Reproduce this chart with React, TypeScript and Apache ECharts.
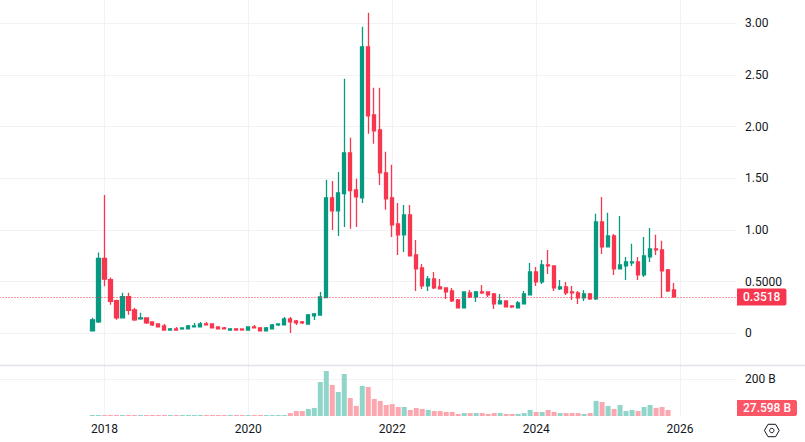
import React, { useEffect, useRef } from "react";
import * as echarts from "echarts";

const FONT = "Roboto";
const UP = "#089981";
const DOWN = "#f7374f";
const UP_SOFT = "#90d5c9";
const DOWN_SOFT = "#fca7af";
const GRID = "#f2f2f4";
const TEXT = "#131722";

const LEAD_MONTHS = 15;
const TOTAL_MONTHS = 123;
const CURRENT_PRICE = 0.3518;
const CURRENT_VOLUME = 27.598;

const opens = [
  0.023, 0.11, 0.724, 0.52, 0.315, 0.149, 0.354, 0.227, 0.14, 0.149, 0.11, 0.09, 0.071, 0.032, 0.042, 0.042, 0.042, 0.062, 0.062, 0.09,
  0.09, 0.061, 0.052, 0.032, 0.042, 0.042, 0.032, 0.061, 0.052, 0.023, 0.042, 0.081, 0.081, 0.139, 0.119, 0.11, 0.09, 0.168, 0.177, 0.345,
  1.31, 1.184, 1.352, 1.745, 1.387, 1.31, 2.771, 2.113, 1.968, 1.552, 1.31, 1.058, 0.952, 1.145, 0.758, 0.632, 0.458, 0.526, 0.448, 0.439,
  0.41, 0.323, 0.245, 0.39, 0.352, 0.4, 0.4, 0.381, 0.284, 0.313, 0.265, 0.245, 0.284, 0.371, 0.594, 0.497, 0.661, 0.652, 0.429, 0.448,
  0.4, 0.39, 0.342, 0.381, 0.332, 1.077, 0.835, 0.942, 0.623, 0.652, 0.681, 0.69, 0.565, 0.739, 0.816, 0.806, 0.613, 0.419,
];
const closes = [
  0.13, 0.724, 0.523, 0.308, 0.149, 0.354, 0.221, 0.13, 0.149, 0.1, 0.081, 0.062, 0.032, 0.042, 0.032, 0.052, 0.071, 0.071, 0.09, 0.081,
  0.052, 0.042, 0.042, 0.042, 0.032, 0.032, 0.061, 0.052, 0.023, 0.052, 0.081, 0.09, 0.139, 0.11, 0.1, 0.1, 0.177, 0.187, 0.352, 1.31,
  1.184, 1.358, 1.745, 1.381, 1.319, 2.771, 2.103, 1.958, 1.552, 1.3, 1.048, 0.952, 1.145, 0.748, 0.623, 0.458, 0.526, 0.439, 0.429, 0.4,
  0.313, 0.245, 0.4, 0.352, 0.4, 0.39, 0.371, 0.284, 0.313, 0.255, 0.255, 0.294, 0.381, 0.594, 0.497, 0.661, 0.652, 0.439, 0.448, 0.39,
  0.39, 0.342, 0.381, 0.332, 1.077, 0.835, 0.942, 0.623, 0.661, 0.69, 0.69, 0.565, 0.748, 0.816, 0.806, 0.603, 0.41, 0.3518,
];
const lows = [
  0.023, 0.1, 0.455, 0.276, 0.13, 0.149, 0.179, 0.12, 0.13, 0.09, 0.071, 0.06, 0.03, 0.03, 0.03, 0.042, 0.042, 0.062, 0.062, 0.081,
  0.05, 0.042, 0.04, 0.032, 0.032, 0.032, 0.032, 0.052, 0.023, 0.023, 0.042, 0.071, 0.081, 0.003, 0.081, 0.09, 0.09, 0.129, 0.177, 0.345,
  1.0, 0.942, 1.029, 1.01, 1.029, 1.261, 1.929, 1.832, 1.435, 1.194, 0.932, 0.758, 0.787, 0.748, 0.41, 0.429, 0.41, 0.429, 0.429, 0.332,
  0.303, 0.245, 0.245, 0.342, 0.303, 0.381, 0.352, 0.235, 0.284, 0.255, 0.245, 0.245, 0.284, 0.371, 0.458, 0.477, 0.574, 0.41, 0.419, 0.371,
  0.323, 0.284, 0.313, 0.323, 0.323, 0.768, 0.835, 0.565, 0.623, 0.516, 0.652, 0.516, 0.545, 0.69, 0.758, 0.342, 0.4, 0.345,
];
const highs = [
  0.15, 0.782, 1.338, 0.54, 0.325, 0.393, 0.393, 0.247, 0.198, 0.149, 0.11, 0.09, 0.09, 0.052, 0.062, 0.052, 0.081, 0.1, 0.11, 0.11,
  0.09, 0.061, 0.061, 0.052, 0.052, 0.042, 0.061, 0.081, 0.061, 0.061, 0.09, 0.09, 0.158, 0.158, 0.129, 0.119, 0.187, 0.197, 0.4, 1.484,
  1.474, 1.561, 2.461, 1.89, 1.494, 2.965, 3.1, 2.374, 2.374, 1.755, 1.629, 1.261, 1.242, 1.242, 0.903, 0.671, 0.555, 0.594, 0.526, 0.439,
  0.439, 0.332, 0.4, 0.419, 0.41, 0.468, 0.4, 0.39, 0.381, 0.313, 0.265, 0.313, 0.41, 0.681, 0.642, 0.71, 0.806, 0.652, 0.516, 0.497,
  0.458, 0.41, 0.419, 0.39, 1.155, 1.319, 1.165, 0.961, 1.135, 0.739, 0.865, 0.739, 0.932, 1.019, 0.952, 0.894, 0.623, 0.487,
];
const volumesB = [
  1, 2, 2, 1, 1, 1, 1, 1, 1, 1, 1, 1, 1, 1, 1, 1, 1, 1, 2, 2,
  1, 1, 1, 1, 1, 1, 1, 1, 1, 1, 2, 2, 3, 16, 27, 27, 38, 44, 185, 245,
  169, 131, 229, 98, 55, 164, 158, 93, 82, 60, 65, 49, 49, 33, 44, 38, 33, 27, 27, 22,
  22, 11, 16, 16, 16, 16, 11, 16, 16, 11, 11, 11, 16, 33, 22, 22, 33, 22, 16, 16,
  16, 16, 11, 16, 82, 76, 55, 38, 60, 27, 33, 27, 49, 60, 44, 49, 33,
];

const months: string[] = [];
for (let i = 0; i < TOTAL_MONTHS; i++) {
  const total = 2016 * 12 + 7 + i; // first band: Aug 2016
  const y = Math.floor(total / 12);
  const m = total % 12;
  months.push(`${y}-${String(m + 1).padStart(2, "0")}`);
}
const isTick = (v: string) => {
  const [y, m] = v.split("-").map(Number);
  return m === 1 && y % 2 === 0 && y >= 2018;
};
const blanks = (n: number) => new Array(n).fill(null);
const candleData: any[] = [
  ...blanks(LEAD_MONTHS).map(() => "-"),
  ...opens.map((o, i) => [o, closes[i], lows[i], highs[i]]),
];
const volumeData: any[] = [
  ...blanks(LEAD_MONTHS),
  ...volumesB.map((v, i) => ({
    value: v,
    itemStyle: { color: closes[i] >= opens[i] ? UP_SOFT : DOWN_SOFT },
  })),
];

const priceLabel = (v: number) => {
  if (v === 0) return "0";
  if (v === 0.5) return "0.5000";
  return v.toFixed(2);
};

export default function App() {
  const ref = useRef<HTMLDivElement>(null);
  useEffect(() => {
    const chart = echarts.init(ref.current!, undefined, { renderer: "svg", width: 805, height: 442 });
    const tickInterval = (_: number, v: string) => isTick(v);
    const xBase = {
      type: "category" as const,
      data: months,
      boundaryGap: true,
      axisLine: { show: false },
      axisTick: { show: false },
      splitLine: {
        show: true,
        interval: tickInterval,
        alignWithLabel: true,
        lineStyle: { color: GRID, width: 1 },
      },
    };
    chart.setOption({
      animation: false,
      backgroundColor: "#ffffff",
      textStyle: { fontFamily: FONT },
      grid: [
        { left: -0.5, width: 737.5, top: -28.6, height: 413.6, outerBoundsMode: "none" },
        { left: -0.5, width: 737.5, top: 342.6, height: 73.4, outerBoundsMode: "none" },
      ],
      xAxis: [
        { ...xBase, gridIndex: 0, axisLabel: { show: false } },
        {
          ...xBase,
          gridIndex: 1,
          axisLabel: {
            show: true,
            interval: tickInterval,
            formatter: (v: string) => v.slice(0, 4),
            color: TEXT,
            fontFamily: FONT,
            fontSize: 12,
            margin: 7,
          },
        },
      ],
      yAxis: [
        {
          type: "value",
          gridIndex: 0,
          position: "right",
          min: -0.5,
          max: 3.5,
          interval: 0.5,
          axisLine: { show: false },
          axisTick: { show: false },
          axisLabel: {
            color: TEXT,
            fontFamily: FONT,
            fontSize: 12,
            margin: 8,
            showMinLabel: false,
            showMaxLabel: false,
            formatter: priceLabel,
          },
          splitLine: { show: true, showMinLine: false, showMaxLine: false, lineStyle: { color: GRID, width: 1 } },
        },
        {
          type: "value",
          gridIndex: 1,
          position: "right",
          min: 0,
          max: 400,
          interval: 200,
          axisLine: { show: false },
          axisTick: { show: false },
          axisLabel: {
            color: TEXT,
            fontFamily: FONT,
            fontSize: 12,
            margin: 8,
            showMinLabel: false,
            showMaxLabel: false,
            formatter: (v: number) => `${v} B`,
          },
          splitLine: { show: true, showMinLine: false, showMaxLine: false, lineStyle: { color: GRID, width: 1 } },
        },
      ],
      series: [
        {
          type: "candlestick",
          xAxisIndex: 0,
          yAxisIndex: 0,
          data: candleData,
          barWidth: 3.7,
          clip: false,
          itemStyle: { color: UP, color0: DOWN, borderColor: UP, borderColor0: DOWN, borderWidth: 1.3 },
          markLine: {
            silent: true,
            symbol: "none",
            animation: false,
            data: [{ yAxis: CURRENT_PRICE }],
            lineStyle: { color: DOWN, width: 1, type: [1, 2] },
            label: {
              show: true,
              position: "end",
              distance: 0,
              formatter: () => CURRENT_PRICE.toFixed(4),
              color: "#ffffff",
              backgroundColor: DOWN,
              fontFamily: FONT,
              fontSize: 12,
              fontWeight: 500,
              padding: [3, 6, 2, 6],
              borderRadius: [0, 2, 2, 0],
            },
          },
        },
        {
          type: "bar",
          xAxisIndex: 1,
          yAxisIndex: 1,
          data: volumeData,
          barWidth: 5,
          barMinHeight: 1,
          z: 3,
          markLine: {
            silent: true,
            symbol: "none",
            animation: false,
            data: [{ yAxis: CURRENT_VOLUME }],
            lineStyle: { color: "rgba(255,255,255,0)", width: 1, type: "solid" },
            label: {
              show: true,
              position: "end",
              distance: 0,
              offset: [0, -3],
              formatter: () => `${CURRENT_VOLUME} B`,
              color: "#ffffff",
              backgroundColor: "#fb5566",
              fontFamily: FONT,
              fontSize: 12,
              fontWeight: 500,
              padding: [3, 6, 1, 6],
              borderRadius: [0, 2, 2, 0],
            },
          },
        },
      ],
      graphic: [
        {
          type: "line",
          silent: true,
          z: 100,
          shape: { x1: 0, y1: 365.5, x2: 805, y2: 365.5 },
          style: { stroke: "#e0e3eb", lineWidth: 1.5 },
        },
        {
          type: "polygon",
          silent: true,
          shape: { points: [[764.4, 430.5], [768, 424.3], [775.6, 424.3], [779.2, 430.5], [775.6, 436.7], [768, 436.7]] },
          style: { fill: "none", stroke: TEXT, lineWidth: 1 },
        },
        {
          type: "circle",
          silent: true,
          shape: { cx: 771.8, cy: 430.5, r: 2.2 },
          style: { fill: "none", stroke: TEXT, lineWidth: 1 },
        },
      ],
    });
    return () => chart.dispose();
  }, []);
  return (
    <div
      ref={ref}
      style={{ position: "absolute", left: 0, top: 0, width: 805, height: 442, overflow: "hidden" }}
    />
  );
}
